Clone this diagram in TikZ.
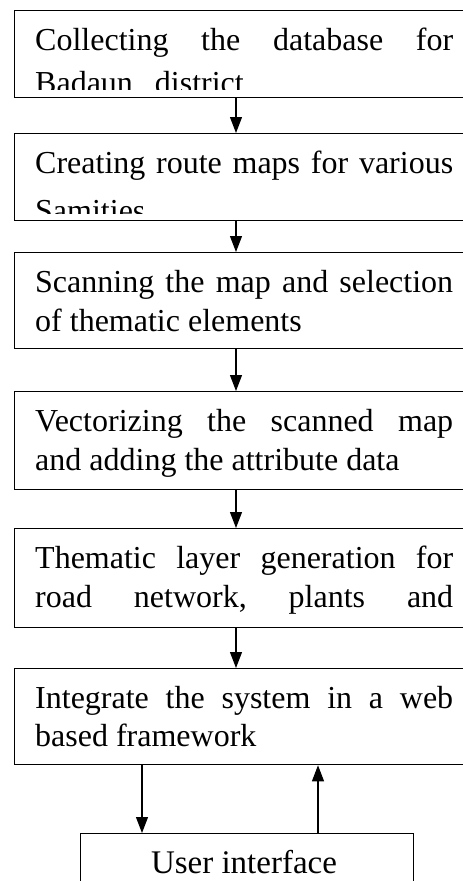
\documentclass[tikz,border=0pt]{standalone}
\usepackage{fontspec}
\setmainfont{Liberation Serif}
\usetikzlibrary{arrows.meta}
\tikzset{
  box/.style={draw, line width=1.3pt, rectangle, inner sep=0pt, anchor=north west},
  txt/.style={anchor=base west, inner sep=0pt},
  arr/.style={line width=1.1pt, -{Triangle[length=16pt,width=12pt]}}
}
\newcommand{\jl}[1]{\hbox to 418pt{#1}}
\begin{document}
\begin{tikzpicture}[x=1pt,y=-1pt]
\useasboundingbox (0,0) rectangle (463,881);
\clip (0,0) rectangle (463,881);
\fill[white] (0,0) rectangle (463,881);
\fontsize{32}{38.5}\selectfont
% boxes
\node[box, minimum width=500pt, minimum height=86.5pt] (b1) at (14,10) {};
\node[box, minimum width=500pt, minimum height=87pt] (b2) at (14,133) {};
\node[box, minimum width=500pt, minimum height=96pt] (b3) at (14,252) {};
\node[box, minimum width=500pt, minimum height=98pt] (b4) at (14,391) {};
\node[box, minimum width=500pt, minimum height=99pt] (b5) at (14,528) {};
\node[box, minimum width=500pt, minimum height=96pt] (b6) at (14,668) {};
\node[box, minimum width=333pt, minimum height=90pt] (ui) at (80,833) {};
% texts
\begin{scope}
\clip (b1.north west) rectangle ([yshift=8.5pt]b1.south east);
\node[txt] (t1a) at (35,50.5) {\jl{Collecting\hfill the\hfill database\hfill for}};
\node[txt] (t1b) at (35,93.5) {Badaun\hspace{22pt}district};
\end{scope}
\begin{scope}
\clip (b2.north west) rectangle ([yshift=8pt]b2.south east);
\node[txt] (t2a) at (35,173) {\jl{Creating\hfill route\hfill maps\hfill for\hfill various}};
\node[txt] (t2b) at (35,221) {Samities};
\end{scope}
\begin{scope}
\clip (b3.north west) rectangle ([yshift=9.5pt]b3.south east);
\node[txt] (t3a) at (35,292) {\jl{Scanning\hfill the\hfill map\hfill and\hfill selection}};
\node[txt] (t3b) at (35,331) {of thematic elements};
\end{scope}
\begin{scope}
\clip (b4.north west) rectangle ([yshift=9.5pt]b4.south east);
\node[txt] (t4a) at (35,431) {\jl{Vectorizing\hfill the\hfill scanned\hfill map}};
\node[txt] (t4b) at (35,470) {and adding the attribute data};
\end{scope}
\begin{scope}
\clip (b5.north west) rectangle ([yshift=9.5pt]b5.south east);
\node[txt] (t5a) at (35,568) {\jl{Thematic\hfill layer\hfill generation\hfill for}};
\node[txt] (t5b) at (35,607) {\jl{road\hfill network,\hfill plants\hfill and}};
\end{scope}
\begin{scope}
\clip (b6.north west) rectangle ([yshift=9.5pt]b6.south east);
\node[txt] (t6a) at (35,708) {\jl{Integrate\hfill the\hfill system\hfill in\hfill a\hfill web}};
\node[txt] (t6b) at (35,746.5) {based framework};
\end{scope}
\node[anchor=base, inner sep=0pt, font=\fontsize{33}{38}\selectfont] (tui) at (244,873) {User interface};
% arrows
\coordinate (ax) at (236,0);
\coordinate (dx) at (142,0);
\coordinate (ux) at (318,0);
\draw[arr] (b1.south -| ax) -- (b2.north -| ax);
\draw[arr] (b2.south -| ax) -- (b3.north -| ax);
\draw[arr] (b3.south -| ax) -- (b4.north -| ax);
\draw[arr] (b4.south -| ax) -- (b5.north -| ax);
\draw[arr] (b5.south -| ax) -- (b6.north -| ax);
\draw[arr] (b6.south -| dx) -- (ui.north -| dx);
\draw[arr] (ui.north -| ux) -- (b6.south -| ux);
\end{tikzpicture}
\end{document}
